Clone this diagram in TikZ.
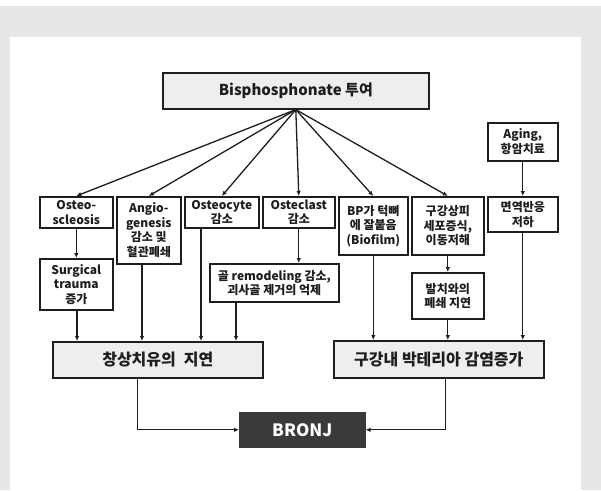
\documentclass[tikz,border=0pt]{standalone}
\usepackage{fontspec}
\setmainfont{Noto Sans CJK KR}
\usetikzlibrary{arrows.meta}
\definecolor{bggray}{HTML}{E6E7E6}
\definecolor{boxfill}{HTML}{EEEEEE}
\definecolor{ink}{HTML}{1E1E1E}
\definecolor{darkbox}{HTML}{3A3A3A}
\tikzset{
  bx/.style={draw=ink, line width=1.6pt, fill=white, inner sep=0pt, anchor=north west,
    align=center, text=ink, font=\bfseries\fontsize{12}{14.5}\selectfont},
  bigbx/.style={bx, fill=boxfill, font=\bfseries\fontsize{16}{19}\selectfont},
  arr/.style={draw=ink, line width=1.3pt, -{Latex[length=5pt,width=4.5pt]}},
}
\begin{document}
\begin{tikzpicture}[x=1pt,y=-1pt]
\fill[white] (0,0) rectangle (601,490);
\fill[bggray] (0,6) rectangle (601,490);
\fill[white] (10,37) rectangle (581,490);
\useasboundingbox (0,0) rectangle (601,490);

\node[bx, fill=boxfill, minimum width=266, minimum height=36, font=\bfseries\fontsize{15}{18}\selectfont] (bisph) at (162,72) {Bisphosphonate 투여};
\node[bx, minimum width=70, minimum height=38] (aging) at (487,122) {Aging,\\항암치료};

\node[bx, minimum width=73, minimum height=31] (scl) at (39,196) {Osteo-\\scleosis};
\node[bx, minimum width=64, minimum height=67] (angio) at (116,196) {Angio-\\genesis\\감소 및\\혈관폐쇄};
\node[bx, minimum width=74, minimum height=31] (ocyte) at (184,196) {Osteocyte\\감소};
\node[bx, minimum width=72, minimum height=31] (oclast) at (262,196) {Osteclast\\감소};
\node[bx, minimum width=69, minimum height=58] (bp) at (338,196) {BP가 턱뼈\\에 잘붙음\\(Biofilm)};
\node[bx, minimum width=72, minimum height=58] (epi) at (411,196) {구강상피\\세포증식,\\이동저해};
\node[bx, minimum width=70, minimum height=35] (immune) at (487,196) {면역반응\\저하};

\node[bx, minimum width=73, minimum height=51] (surg) at (39,258) {Surgical\\trauma\\증가};
\node[bx, minimum width=129, minimum height=38] (remod) at (209,263) {골 remodeling 감소,\\괴사골 제거의 억제};
\node[bx, minimum width=72, minimum height=46] (socket) at (411,272) {발치와의\\폐쇄 지연};

\node[bigbx, minimum width=210, minimum height=36] (heal) at (52,341) {창상치유의\hspace{0.5em}지연};
\node[bigbx, minimum width=210, minimum height=37] (bact) at (333,340) {구강내 박테리아 감염증가};

\node[bx, fill=darkbox, draw=darkbox, text=white, minimum width=125, minimum height=34,
  font=\bfseries\fontsize{17}{20}\selectfont] (bronj) at (239,412) {BRONJ};

% fan
\foreach \t in {scl,angio,ocyte,oclast,bp,epi}
  \draw[arr] (bisph.south) -- (\t.north);

\draw[arr] (aging.south) -- (immune.north);
\draw[arr] (scl.south) -- (surg.north);
\draw[arr] (oclast.south) -- (oclast.south |- remod.north);
\draw[arr] (epi.south) -- (socket.north);

% into heal
\draw[arr] ([xshift=38]surg.south west) -- ([xshift=38]surg.south west |- heal.north);
\draw[arr] ([xshift=26]angio.south west) -- ([xshift=26]angio.south west |- heal.north);
\draw[arr] ([xshift=17]ocyte.south west) -- ([xshift=17]ocyte.south west |- heal.north);
\draw[arr] ([xshift=27]remod.south west) -- ([xshift=27]remod.south west |- heal.north);

% into bact
\draw[arr] (bp.south) -- (bp.south |- bact.north);
\draw[arr] (socket.south) -- (socket.south |- bact.north);
\draw[arr] (immune.south) -- (immune.south |- bact.north);

% to BRONJ
\draw[arr] ([xshift=-20]heal.south) |- (bronj.west);
\draw[arr] ([xshift=7]bact.south) |- (bronj.east);
\end{tikzpicture}
\end{document}
